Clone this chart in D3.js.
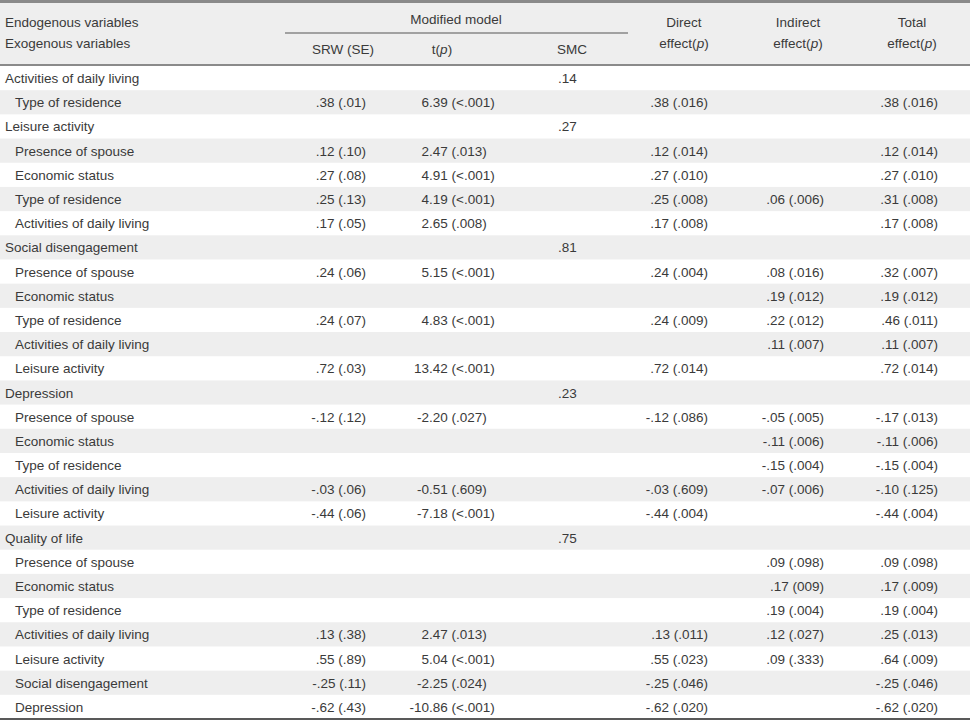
<!DOCTYPE html>
<html>
<head>
<meta charset="utf-8">
<script src="https://cdn.jsdelivr.net/npm/d3@7/dist/d3.min.js"></script>
<style>
  html, body { margin: 0; padding: 0; background: #fff; }
  svg { display: block; }
  text { font-family: "Liberation Sans", Arial, sans-serif; font-size: 13.5px; fill: #3a3a3a; }
</style>
</head>
<body>
<svg id="chart" width="970" height="722"></svg>
<script>
// ---- data ----
const rowLabels = [
  "Activities of daily living", "Type of residence",
  "Leisure activity", "Presence of spouse", "Economic status", "Type of residence", "Activities of daily living",
  "Social disengagement", "Presence of spouse", "Economic status", "Type of residence", "Activities of daily living", "Leisure activity",
  "Depression", "Presence of spouse", "Economic status", "Type of residence", "Activities of daily living", "Leisure activity",
  "Quality of life", "Presence of spouse", "Economic status", "Type of residence", "Activities of daily living", "Leisure activity", "Social disengagement", "Depression"
];
const rowLevel = [0,1, 0,1,1,1,1, 0,1,1,1,1,1, 0,1,1,1,1,1, 0,1,1,1,1,1,1,1];
const srwSE = [
  "", ".38 (.01)",
  "", ".12 (.10)", ".27 (.08)", ".25 (.13)", ".17 (.05)",
  "", ".24 (.06)", "", ".24 (.07)", "", ".72 (.03)",
  "", "-.12 (.12)", "", "", "-.03 (.06)", "-.44 (.06)",
  "", "", "", "", ".13 (.38)", ".55 (.89)", "-.25 (.11)", "-.62 (.43)"
];
const tP = [
  "", "6.39 (<.001)",
  "", "2.47 (.013)", "4.91 (<.001)", "4.19 (<.001)", "2.65 (.008)",
  "", "5.15 (<.001)", "", "4.83 (<.001)", "", "13.42 (<.001)",
  "", "-2.20 (.027)", "", "", "-0.51 (.609)", "-7.18 (<.001)",
  "", "", "", "", "2.47 (.013)", "5.04 (<.001)", "-2.25 (.024)", "-10.86 (<.001)"
];
const smc = [
  ".14", "",
  ".27", "", "", "", "",
  ".81", "", "", "", "", "",
  ".23", "", "", "", "", "",
  ".75", "", "", "", "", "", "", ""
];
const directEffect = [
  "", ".38 (.016)",
  "", ".12 (.014)", ".27 (.010)", ".25 (.008)", ".17 (.008)",
  "", ".24 (.004)", "", ".24 (.009)", "", ".72 (.014)",
  "", "-.12 (.086)", "", "", "-.03 (.609)", "-.44 (.004)",
  "", "", "", "", ".13 (.011)", ".55 (.023)", "-.25 (.046)", "-.62 (.020)"
];
const indirectEffect = [
  "", "",
  "", "", "", ".06 (.006)", "",
  "", ".08 (.016)", ".19 (.012)", ".22 (.012)", ".11 (.007)", "",
  "", "-.05 (.005)", "-.11 (.006)", "-.15 (.004)", "-.07 (.006)", "",
  "", ".09 (.098)", ".17 (009)", ".19 (.004)", ".12 (.027)", ".09 (.333)", "", ""
];
const totalEffect = [
  "", ".38 (.016)",
  "", ".12 (.014)", ".27 (.010)", ".31 (.008)", ".17 (.008)",
  "", ".32 (.007)", ".19 (.012)", ".46 (.011)", ".11 (.007)", ".72 (.014)",
  "", "-.17 (.013)", "-.11 (.006)", "-.15 (.004)", "-.10 (.125)", "-.44 (.004)",
  "", ".09 (.098)", ".17 (.009)", ".19 (.004)", ".25 (.013)", ".64 (.009)", "-.25 (.046)", "-.62 (.020)"
];

// ---- layout ----
const svg = d3.select("#chart");
const W = 970;
const headerBottom = 65;
const y = d3.scaleBand().domain(d3.range(rowLabels.length)).range([66, 719]);

// stripes
svg.selectAll("rect.stripe")
  .data(d3.range(rowLabels.length).filter(i => i % 2 === 1))
  .join("rect")
  .attr("class", "stripe")
  .attr("x", 0).attr("width", W)
  .attr("y", i => y(i)).attr("height", y.bandwidth())
  .attr("fill", "#eeeeee");

// header background and rules
svg.append("rect").attr("x", 0).attr("y", 0).attr("width", W).attr("height", headerBottom).attr("fill", "#eeeeee");
svg.append("line").attr("x1", 0).attr("x2", W).attr("y1", 1.5).attr("y2", 1.5).attr("stroke", "#8a8a8a").attr("stroke-width", 3);
svg.append("line").attr("x1", 0).attr("x2", W).attr("y1", 65).attr("y2", 65).attr("stroke", "#8a8a8a").attr("stroke-width", 2);
svg.append("line").attr("x1", 285).attr("x2", 628).attr("y1", 33).attr("y2", 33).attr("stroke", "#555").attr("stroke-width", 1);
svg.append("line").attr("x1", 0).attr("x2", W).attr("y1", 719).attr("y2", 719).attr("stroke", "#222").attr("stroke-width", 1.5);

// header texts
const hdr = svg.append("g");
hdr.append("text").attr("x", 5).attr("y", 27).text("Endogenous variables");
hdr.append("text").attr("x", 5).attr("y", 48).text("Exogenous variables");
hdr.append("text").attr("x", 456).attr("y", 24).attr("text-anchor", "middle").text("Modified model");
hdr.append("text").attr("x", 343).attr("y", 54).attr("text-anchor", "middle").text("SRW (SE)");
const tt = hdr.append("text").attr("x", 442).attr("y", 54).attr("text-anchor", "middle");
tt.append("tspan").text("t(");
tt.append("tspan").attr("font-style", "italic").text("p");
tt.append("tspan").text(")");
hdr.append("text").attr("x", 572).attr("y", 54).attr("text-anchor", "middle").text("SMC");

function twoLine(cx, l1) {
  hdr.append("text").attr("x", cx).attr("y", 27).attr("text-anchor", "middle").text(l1);
  const t = hdr.append("text").attr("x", cx).attr("y", 48).attr("text-anchor", "middle");
  t.append("tspan").text("effect(");
  t.append("tspan").attr("font-style", "italic").text("p");
  t.append("tspan").text(")");
}
twoLine(684, "Direct");
twoLine(798, "Indirect");
twoLine(912, "Total");

// body
const body = svg.append("g");
const rows = d3.range(rowLabels.length);
const baseY = i => y(i) + y.bandwidth() / 2 + 5;

body.selectAll("text.lbl").data(rows).join("text")
  .attr("class", "lbl")
  .attr("x", i => rowLevel[i] === 0 ? 5 : 15)
  .attr("y", baseY)
  .text(i => rowLabels[i]);

function rightCol(arr, xr, cls) {
  body.selectAll("text." + cls).data(rows.filter(i => arr[i] !== "")).join("text")
    .attr("class", cls)
    .attr("x", xr).attr("y", baseY)
    .attr("text-anchor", "end")
    .text(i => arr[i]);
}
rightCol(srwSE, 366, "srw");
rightCol(directEffect, 708, "dir");
rightCol(indirectEffect, 824, "ind");
rightCol(totalEffect, 938, "tot");

// SMC left aligned
body.selectAll("text.smc").data(rows.filter(i => smc[i] !== "")).join("text")
  .attr("class", "smc").attr("x", 558).attr("y", baseY).text(i => smc[i]);

// t(p) aligned on decimal point
const tAlign = 429;
body.selectAll("text.tp").data(rows.filter(i => tP[i] !== "")).join("text")
  .attr("class", "tp").attr("y", baseY).text(i => tP[i])
  .each(function(i) {
    const s = tP[i];
    const k = s.indexOf(".");
    const tmp = body.append("text").text(s.slice(0, k));
    const w = tmp.node().getComputedTextLength();
    tmp.remove();
    d3.select(this).attr("x", tAlign - w);
  });
</script>
</body>
</html>
